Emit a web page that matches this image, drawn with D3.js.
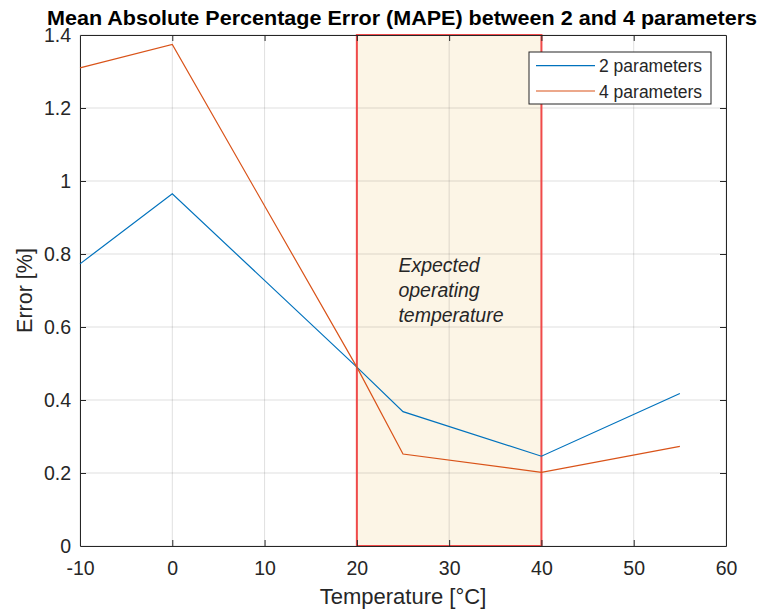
<!DOCTYPE html>
<html>
<head>
<meta charset="utf-8">
<script src="https://cdn.jsdelivr.net/npm/d3@7"></script>
<style>
  body { margin: 0; background: #fff; }
  svg { font-family: "Liberation Sans", Arial, sans-serif; }
</style>
</head>
<body>
<svg id="chart" width="766" height="610"></svg>
<script>
// temperatures (°C) and MAPE values (%)
const temps = [-10, 0, 20, 25, 40, 55];
const mape2 = [0.773, 0.965, 0.49, 0.368, 0.246, 0.418];
const mape4 = [1.31, 1.374, 0.49, 0.252, 0.202, 0.273];
const seriesNames = ['2 parameters', '4 parameters'];
const xTicks = [-10, 0, 10, 20, 30, 40, 50, 60];
const yTicks = [0, 0.2, 0.4, 0.6, 0.8, 1, 1.2, 1.4];
const bandRange = [20, 40];
const bandText = ['Expected', 'operating', 'temperature'];

window.addEventListener('DOMContentLoaded', () => {
    const margin = { top: 35, right: 40, bottom: 64, left: 80 },
        width = 766, height = 610;

    const svg = d3.select('#chart');

    const x = d3.scaleLinear().domain([-10, 60]).range([margin.left, width - margin.right]);
    const y = d3.scaleLinear().domain([0, 1.4]).range([height - margin.bottom, margin.top]);

    // shaded region
    svg.append('rect')
        .attr('x', x(bandRange[0]))
        .attr('y', y(1.4))
        .attr('width', x(bandRange[1]) - x(bandRange[0]))
        .attr('height', y(0) - y(1.4))
        .attr('fill', '#fcf5e6');

    // grid
    svg.append('g').selectAll('line').data(xTicks).join('line')
        .attr('x1', d => x(d)).attr('x2', d => x(d))
        .attr('y1', y(0)).attr('y2', y(1.4))
        .attr('stroke', '#262626').attr('stroke-opacity', 0.14);
    svg.append('g').selectAll('line').data(yTicks).join('line')
        .attr('x1', x(-10)).attr('x2', x(60))
        .attr('y1', d => y(d)).attr('y2', d => y(d))
        .attr('stroke', '#262626').attr('stroke-opacity', 0.14);

    // band border
    svg.append('rect')
        .attr('x', x(bandRange[0]))
        .attr('y', y(1.4))
        .attr('width', x(bandRange[1]) - x(bandRange[0]))
        .attr('height', y(0) - y(1.4))
        .attr('fill', 'none')
        .attr('stroke', '#f04a4a')
        .attr('stroke-width', 2);

    // axes (ticks inward, box on)
    const axisColor = '#262626';
    const xAxis = svg.append('g').attr('transform', `translate(0,${y(0)})`)
        .call(d3.axisBottom(x).tickValues(xTicks).tickSizeInner(-6).tickSizeOuter(0).tickPadding(15)
            .tickFormat(d => String(d)));
    const xAxisTop = svg.append('g').attr('transform', `translate(0,${y(1.4)})`)
        .call(d3.axisTop(x).tickValues(xTicks).tickSizeInner(-6).tickSizeOuter(0).tickFormat(''));
    const yAxis = svg.append('g').attr('transform', `translate(${x(-10)},0)`)
        .call(d3.axisLeft(y).tickValues(yTicks).tickSizeInner(-6).tickSizeOuter(0).tickPadding(9)
            .tickFormat(d => String(+d.toFixed(1))));
    const yAxisRight = svg.append('g').attr('transform', `translate(${x(60)},0)`)
        .call(d3.axisRight(y).tickValues(yTicks).tickSizeInner(-6).tickSizeOuter(0).tickFormat(''));

    [xAxis, xAxisTop, yAxis, yAxisRight].forEach(g => {
        g.select('.domain').attr('stroke', axisColor);
        g.selectAll('.tick line').attr('stroke', axisColor);
        g.selectAll('.tick text').attr('fill', axisColor).attr('font-size', 19.5)
            .attr('font-family', '"Liberation Sans", Arial, sans-serif');
    });
    // hide tick marks at the corners
    [xAxis, xAxisTop].forEach(g => g.selectAll('.tick line').filter(d => d === -10 || d === 60).remove());
    [yAxis, yAxisRight].forEach(g => g.selectAll('.tick line').filter(d => d === 0 || d === 1.4).remove());

    // lines
    const colors = ['#0072bd', '#d95319'];
    const line = d3.line().x(d => x(d[0])).y(d => y(d[1]));
    [mape2, mape4].forEach((vals, i) => {
        svg.append('path')
            .datum(temps.map((t, k) => [t, vals[k]]))
            .attr('d', line)
            .attr('fill', 'none')
            .attr('stroke', colors[i])
            .attr('stroke-width', 1.2);
    });

    // band annotation
    svg.append('text')
        .attr('x', x(24.5))
        .attr('y', y(0.75))
        .attr('font-size', 19.5)
        .attr('font-style', 'italic')
        .attr('fill', '#262626')
        .selectAll('tspan').data(bandText).join('tspan')
        .attr('x', x(24.5))
        .attr('dy', (d, i) => i === 0 ? 0 : 25)
        .text(d => d);

    // legend
    const legend = svg.append('g');
    legend.append('rect')
        .attr('x', 529).attr('y', 52).attr('width', 182).attr('height', 52)
        .attr('fill', '#fff').attr('stroke', '#262626').attr('stroke-width', 1);
    seriesNames.forEach((name, i) => {
        const ly = 65.7 + i * 25.3;
        legend.append('line')
            .attr('x1', 536).attr('x2', 595).attr('y1', ly).attr('y2', ly)
            .attr('stroke', colors[i]).attr('stroke-width', 1.2);
        legend.append('text')
            .attr('x', 599).attr('y', ly + 6.5)
            .attr('font-size', 17.5).attr('fill', '#262626')
            .text(name);
    });

    // title and axis labels
    svg.append('text')
        .attr('x', 402)
        .attr('y', 25)
        .attr('text-anchor', 'middle')
        .attr('font-size', 19.8)
        .attr('font-weight', 'bold')
        .attr('textLength', 710)
        .attr('lengthAdjust', 'spacingAndGlyphs')
        .attr('fill', '#000')
        .text('Mean Absolute Percentage Error (MAPE) between 2 and 4 parameters');

    svg.append('text')
        .attr('x', (margin.left + width - margin.right) / 2)
        .attr('y', 604)
        .attr('text-anchor', 'middle')
        .attr('font-size', 22)
        .attr('fill', '#262626')
        .text('Temperature [°C]');

    svg.append('text')
        .attr('transform', `translate(32,${(y(0) + y(1.4)) / 2}) rotate(-90)`)
        .attr('text-anchor', 'middle')
        .attr('font-size', 21.5)
        .attr('fill', '#262626')
        .text('Error [%]');
});
</script>
</body>
</html>
